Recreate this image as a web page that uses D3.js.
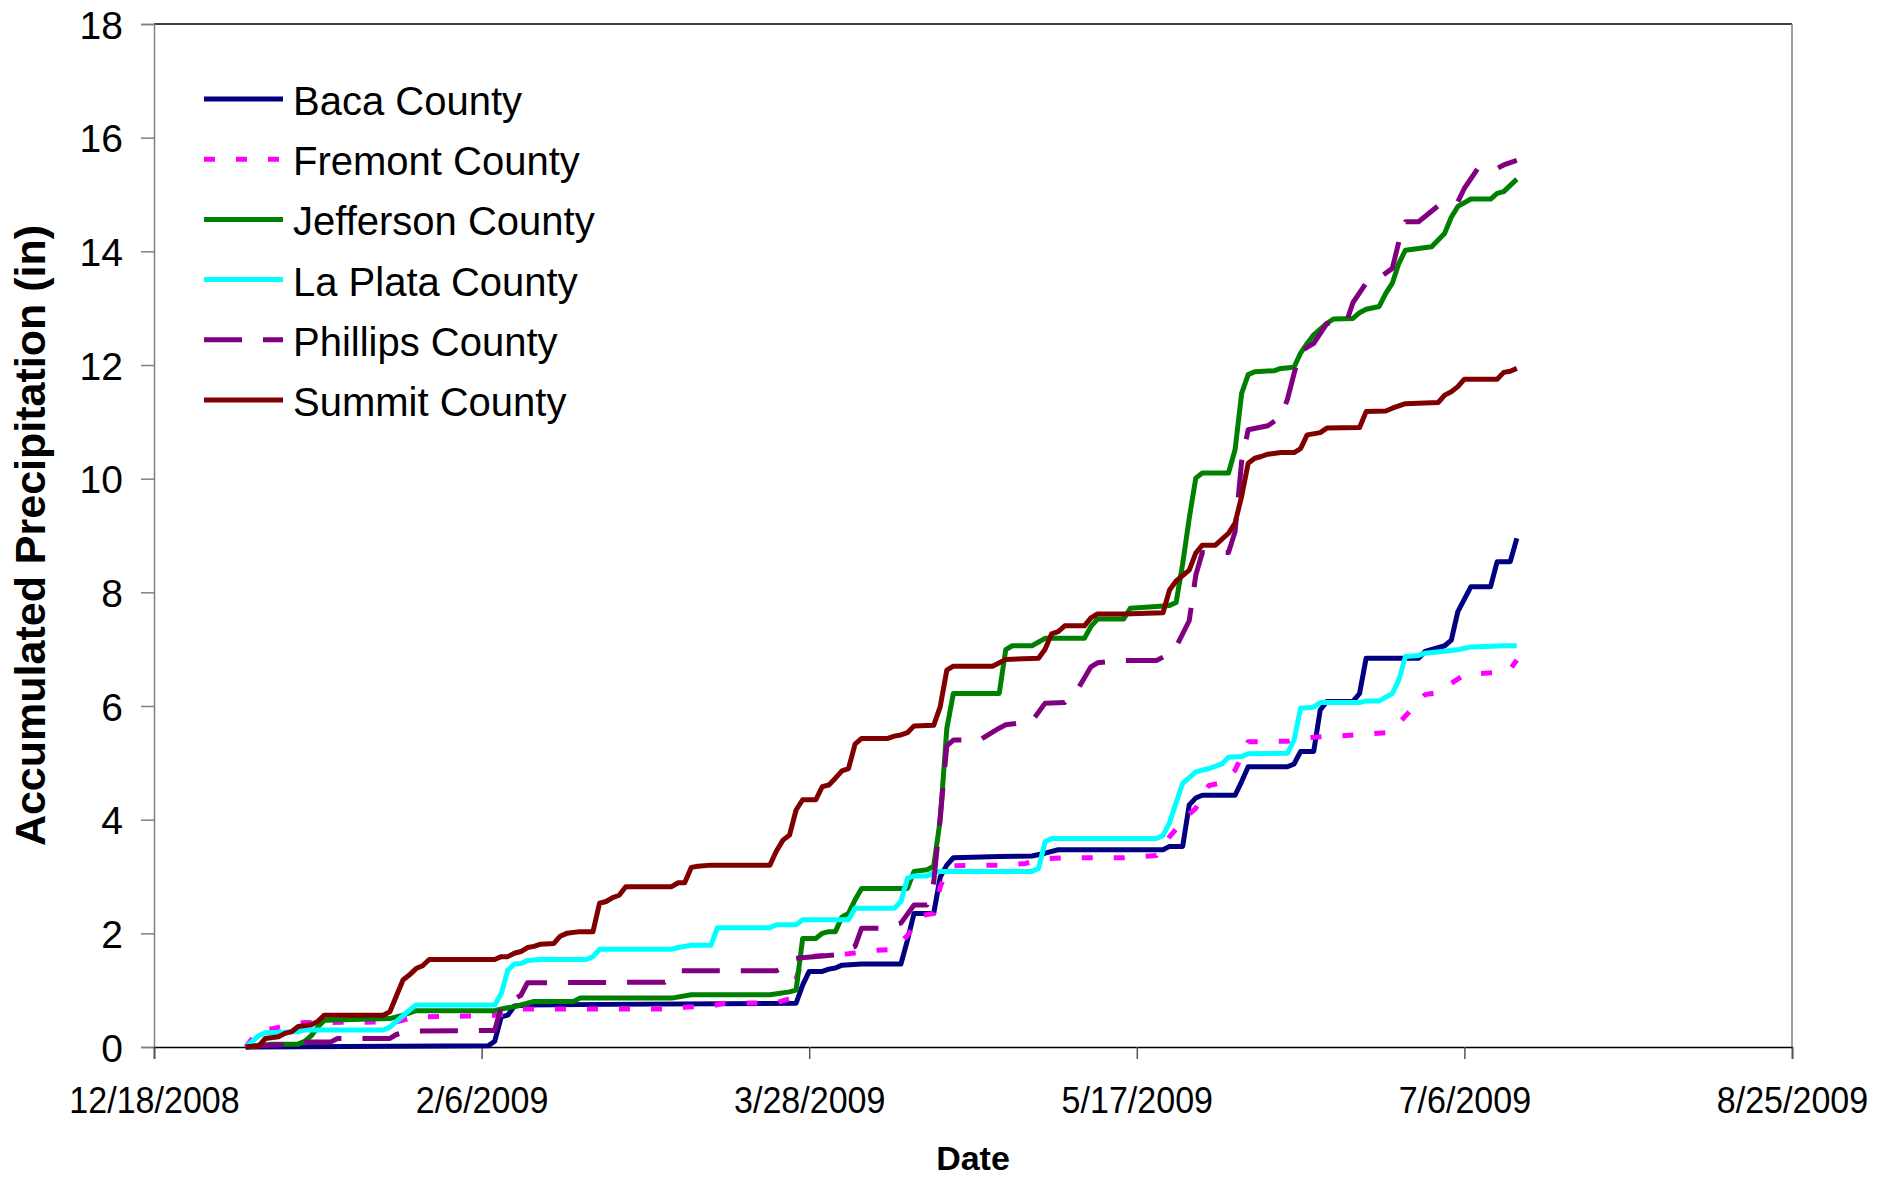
<!DOCTYPE html>
<html>
<head>
<meta charset="utf-8">
<script src="https://cdn.jsdelivr.net/npm/d3@7"></script>
<style>
    body { margin: 0; background: #fff; }
    svg text { font-family: "Liberation Sans", Arial, sans-serif; fill: #000; }
</style>
</head>
<body>
<div id="chart"></div>
<script>
// accumulated precipitation (in), points as [day of year 2009, inches]
var baca = [[1,0],[38,0.02],[39,0.1],[40,0.53],[41,0.56],[42,0.72],[44,0.74],[56,0.75],[85,0.77],[86,1.09],[87,1.33],[89,1.33],[90,1.37],[91,1.39],[92,1.44],[95,1.46],[101,1.46],[102,1.88],[103,2.35],[106,2.35],[107,2.99],[108,3.2],[109,3.33],[116,3.35],[121,3.36],[123,3.41],[125,3.47],[141,3.47],[142,3.53],[144,3.53],[145,4.26],[146,4.38],[147,4.43],[152,4.43],[153,4.67],[154,4.93],[160,4.93],[161,4.98],[162,5.2],[164,5.2],[165,5.93],[166,6.08],[170,6.08],[171,6.22],[172,6.84],[180,6.84],[181,6.96],[184,7.06],[185,7.16],[186,7.66],[188,8.1],[191,8.1],[192,8.54],[194,8.54],[195,8.95]];

var fremont = [[1,0],[3,0.3],[5,0.32],[8,0.4],[10,0.43],[24,0.44],[27,0.53],[38,0.55],[41,0.58],[43,0.67],[66,0.67],[68,0.7],[72,0.72],[74,0.77],[82,0.78],[84,0.85],[85,1.2],[86,1.55],[88,1.6],[93,1.64],[97,1.7],[100,1.72],[101,1.85],[102,1.96],[104,2.31],[106,2.35],[107,2.82],[108,3.1],[109,3.19],[117,3.2],[120,3.23],[123,3.31],[126,3.33],[135,3.33],[140,3.37],[142,3.7],[145,4.1],[146,4.2],[148,4.6],[150,4.65],[152,4.87],[154,5.37],[160,5.38],[164,5.45],[169,5.48],[175,5.53],[177,5.7],[179,5.95],[181,6.2],[183,6.24],[185,6.4],[187,6.55],[192,6.59],[194,6.65],[195,6.81]];

var jefferson = [[1,0],[5,0.05],[9,0.05],[10,0.1],[11,0.2],[12,0.35],[13,0.47],[23,0.5],[24,0.53],[25,0.56],[27,0.64],[39,0.64],[40,0.67],[42,0.71],[45,0.8],[51,0.8],[52,0.86],[66,0.86],[69,0.92],[81,0.92],[84,0.97],[85,1.0],[86,1.91],[88,1.91],[89,2.0],[90,2.03],[91,2.03],[92,2.29],[93,2.35],[94,2.59],[95,2.79],[102,2.79],[103,3.09],[105,3.12],[106,3.18],[107,4.0],[108,5.6],[109,6.22],[116,6.22],[117,6.99],[118,7.06],[121,7.06],[123,7.19],[129,7.19],[130,7.4],[131,7.53],[135,7.53],[136,7.72],[140,7.75],[142,7.77],[143,7.82],[144,8.5],[145,9.3],[146,10.01],[147,10.1],[151,10.1],[152,10.51],[153,11.5],[154,11.83],[155,11.88],[158,11.9],[159,11.94],[161,11.96],[162,12.21],[163,12.38],[164,12.53],[166,12.73],[167,12.81],[170,12.82],[171,12.92],[172,12.98],[174,13.03],[175,13.26],[176,13.44],[177,13.79],[178,14.02],[182,14.08],[184,14.32],[185,14.6],[186,14.79],[188,14.92],[191,14.92],[192,15.02],[193,15.05],[195,15.27]];

var laPlata = [[1,0],[3,0.2],[4,0.25],[9,0.27],[10,0.3],[22,0.3],[23,0.35],[24,0.45],[25,0.55],[26,0.65],[27,0.74],[39,0.74],[40,0.94],[41,1.35],[42,1.46],[43,1.47],[44,1.52],[46,1.54],[53,1.54],[54,1.59],[55,1.72],[66,1.72],[67,1.75],[69,1.79],[72,1.79],[73,2.1],[81,2.1],[82,2.15],[85,2.15],[86,2.24],[93,2.24],[94,2.44],[100,2.44],[101,2.56],[102,2.97],[103,3.01],[105,3.01],[106,3.07],[107,3.09],[121,3.09],[122,3.14],[123,3.61],[124,3.67],[140,3.67],[141,3.72],[142,3.95],[143,4.3],[144,4.64],[146,4.84],[148,4.9],[150,4.98],[151,5.1],[153,5.11],[154,5.16],[160,5.17],[161,5.4],[162,5.96],[164,5.98],[165,6.06],[171,6.06],[172,6.09],[174,6.09],[176,6.22],[177,6.46],[178,6.87],[180,6.89],[181,6.93],[186,6.99],[188,7.04],[193,7.06],[195,7.06]];

var phillips = [[1,0],[3,0.02],[9,0.05],[10,0.09],[14,0.09],[15,0.15],[23,0.15],[24,0.22],[26,0.28],[39,0.29],[40,0.71],[43,0.91],[44,1.13],[65,1.14],[67,1.34],[82,1.34],[83,1.4],[85,1.56],[91,1.62],[94,1.77],[95,2.09],[98,2.09],[101,2.18],[103,2.5],[105,2.5],[106,2.9],[107,4.05],[108,5.3],[109,5.4],[113,5.4],[116,5.61],[117,5.67],[121,5.73],[123,6.05],[126,6.06],[128,6.3],[130,6.69],[131,6.76],[134,6.8],[140,6.8],[142,6.92],[143,7.04],[145,7.5],[146,8.3],[147,8.7],[151,8.7],[152,9.07],[153,10.3],[154,10.86],[157,10.93],[159,11.09],[160,11.4],[161,11.85],[162,12.24],[164,12.38],[166,12.73],[169,12.76],[170,13.1],[172,13.44],[174,13.53],[176,13.7],[177,14.17],[178,14.52],[180,14.52],[183,14.8],[186,14.87],[187,15.11],[189,15.45],[192,15.46],[193,15.52],[195,15.6]];

var summit = [[1,0],[3,0.02],[4,0.15],[6,0.18],[7,0.24],[8,0.27],[9,0.36],[11,0.39],[12,0.45],[13,0.56],[22,0.56],[23,0.62],[25,1.18],[26,1.27],[27,1.38],[28,1.43],[29,1.54],[39,1.54],[40,1.59],[41,1.59],[42,1.65],[43,1.68],[44,1.75],[45,1.77],[46,1.81],[48,1.82],[49,1.95],[50,2.0],[52,2.03],[54,2.03],[55,2.53],[56,2.56],[57,2.63],[58,2.67],[59,2.82],[66,2.82],[67,2.89],[68,2.89],[69,3.16],[70,3.18],[72,3.2],[81,3.2],[82,3.45],[83,3.64],[84,3.73],[85,4.17],[86,4.35],[88,4.35],[89,4.58],[90,4.61],[91,4.73],[92,4.86],[93,4.9],[94,5.33],[95,5.43],[99,5.43],[100,5.47],[101,5.49],[102,5.53],[103,5.65],[106,5.66],[107,5.99],[108,6.63],[109,6.7],[115,6.7],[117,6.82],[122,6.84],[123,7.0],[124,7.27],[125,7.31],[126,7.41],[129,7.41],[130,7.55],[131,7.62],[135,7.62],[141,7.64],[142,8.04],[143,8.2],[145,8.39],[146,8.69],[147,8.83],[149,8.83],[151,9.04],[152,9.22],[153,9.69],[154,10.27],[155,10.36],[156,10.39],[157,10.43],[159,10.46],[161,10.46],[162,10.53],[163,10.77],[165,10.81],[166,10.89],[171,10.9],[172,11.18],[175,11.19],[176,11.24],[178,11.32],[183,11.34],[184,11.47],[185,11.53],[186,11.62],[187,11.75],[192,11.75],[193,11.87],[194,11.89],[195,11.94]];

var countyNames = ["Baca County", "Fremont County", "Jefferson County", "La Plata County", "Phillips County", "Summit County"];
var countySeries = [baca, fremont, jefferson, laPlata, phillips, summit];

var dateTicks = ["12/18/2008", "2/6/2009", "3/28/2009", "5/17/2009", "7/6/2009", "8/25/2009"];
var precipTicks = [0, 2, 4, 6, 8, 10, 12, 14, 16, 18];

// styles, same order as countyNames
var countyColors = ["#000080", "#ff00ff", "#008000", "#00ffff", "#800080", "#800000"];
var countyDashes = [null, "11,21", null, null, "38,21", null];

var chartSize = {width: 1877, height: 1179, margin: {left: 154, right: 85, top: 24, bottom: 132}};

function plotPrecip(containerId, chartSize) {

    var width = chartSize.width - chartSize.margin.left - chartSize.margin.right,
        height = chartSize.height - chartSize.margin.top - chartSize.margin.bottom;

    var parseDate = d3.utcParse("%m/%d/%Y");
    var tickDates = dateTicks.map(parseDate);
    var jan1 = Date.UTC(2009, 0, 1);

    function dayToDate(doy) {
        return d3.utcDay.offset(new Date(jan1), doy - 1);
    }

    var xScale = d3.scaleUtc()
        .domain([tickDates[0], tickDates[tickDates.length - 1]])
        .range([0, width]);

    var yScale = d3.scaleLinear()
        .domain([0, 18])
        .range([height, 0]);

    var svg = d3.select(containerId)
        .append("svg")
        .attr("width", chartSize.width)
        .attr("height", chartSize.height);

    var _chart = svg.append("g")
        .attr("transform", "translate(" + chartSize.margin.left + "," + chartSize.margin.top + ")");

    // plot area border (top / right)
    _chart.append("line")
        .attr("x1", 0).attr("x2", width)
        .attr("y1", 0).attr("y2", 0)
        .attr("stroke", "#000").attr("stroke-width", 1.5);
    _chart.append("line")
        .attr("x1", width).attr("x2", width)
        .attr("y1", 0).attr("y2", height)
        .attr("stroke", "#808080").attr("stroke-width", 1.5);

    // Y axis
    var yAxis = d3.axisLeft(yScale)
        .tickValues(precipTicks)
        .tickSize(13)
        .tickPadding(18)
        .tickFormat(d3.format("d"));

    var gy = _chart.append("g")
        .attr("class", "axis axis--y")
        .call(yAxis);
    gy.select(".domain").attr("stroke", "#808080").attr("stroke-width", 1.5);
    gy.selectAll(".tick line").attr("stroke", "#808080").attr("stroke-width", 1.5);
    gy.selectAll(".tick text")
        .style("font-size", "39px")
        .attr("dy", "0.36em");

    // X axis
    var xAxis = d3.axisBottom(xScale)
        .tickValues(tickDates)
        .tickSize(12)
        .tickPadding(0)
        .tickFormat(d3.utcFormat("%-m/%-d/%Y"));

    var gx = _chart.append("g")
        .attr("class", "axis axis--x")
        .attr("transform", "translate(0," + height + ")")
        .call(xAxis);
    gx.select(".domain").attr("stroke", "#000").attr("stroke-width", 1.5);
    gx.selectAll(".tick line").attr("stroke", "#555").attr("stroke-width", 1.5);
    // labels in the original are a little narrower than the font
    gx.selectAll(".tick text")
        .style("font-size", "37px")
        .attr("y", 66)
        .attr("dy", 0)
        .attr("transform", "scale(0.92,1)");

    // series lines
    var line = d3.line()
        .x(function(d) { return xScale(dayToDate(d[0])); })
        .y(function(d) { return yScale(d[1]); });

    _chart.selectAll(".county")
        .data(countySeries)
        .enter().append("path")
        .attr("class", "county")
        .attr("d", line)
        .attr("fill", "none")
        .attr("stroke", function(d, i) { return countyColors[i]; })
        .attr("stroke-width", 5)
        .attr("stroke-linejoin", "round")
        .attr("stroke-dasharray", function(d, i) { return countyDashes[i]; });

    // legend
    var legend = svg.append("g")
        .attr("transform", "translate(204,99)");

    var rows = legend.selectAll(".row")
        .data(countyNames)
        .enter().append("g")
        .attr("class", "row")
        .attr("transform", function(d, i) { return "translate(0," + (i * 60.2) + ")"; });

    rows.append("line")
        .attr("x1", 0).attr("x2", 79)
        .attr("y1", 0).attr("y2", 0)
        .attr("stroke", function(d, i) { return countyColors[i]; })
        .attr("stroke-width", 5)
        .attr("stroke-dasharray", function(d, i) { return countyDashes[i]; });

    rows.append("text")
        .attr("x", 89)
        .attr("y", 16)
        .style("font-size", "40px")
        .text(function(d) { return d; });

    // axis titles
    svg.append("text")
        .attr("transform", "translate(45," + (chartSize.margin.top + height / 2) + ") rotate(-90)")
        .attr("text-anchor", "middle")
        .style("font-size", "43px")
        .style("font-weight", "bold")
        .text("Accumulated Precipitation (in)");

    svg.append("text")
        .attr("x", chartSize.margin.left + width / 2)
        .attr("y", 1170)
        .attr("text-anchor", "middle")
        .style("font-size", "34px")
        .style("font-weight", "bold")
        .text("Date");
}

plotPrecip("#chart", chartSize);
</script>
</body>
</html>
